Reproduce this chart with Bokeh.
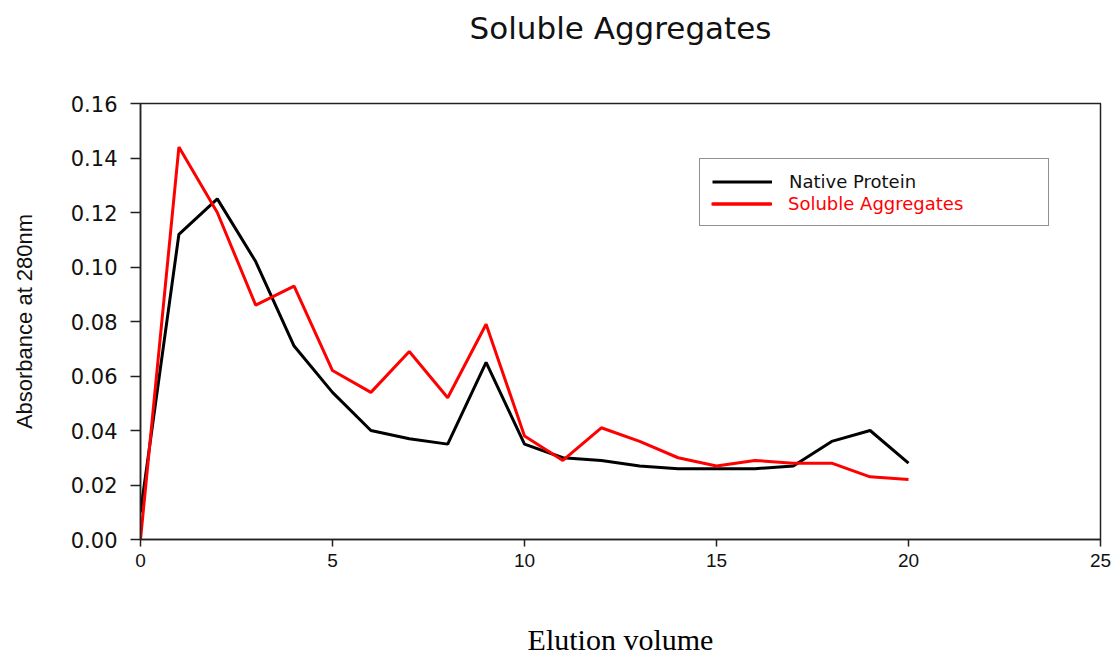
from bokeh.plotting import figure
from bokeh.models import Range1d, FixedTicker, NumeralTickFormatter, Legend, LegendItem, Title
from bokeh.embed import file_html
from bokeh.resources import INLINE

# ---- data ----
elution_volume = [0, 1, 2, 3, 4, 5, 6, 7, 8, 9, 10, 11, 12, 13, 14, 15, 16, 17, 18, 19, 20]
native_protein = [0.010, 0.112, 0.125, 0.102, 0.071, 0.054, 0.040, 0.037, 0.035, 0.065, 0.035,
                  0.030, 0.029, 0.027, 0.026, 0.026, 0.026, 0.027, 0.036, 0.040, 0.028]
soluble_aggregates = [0.000, 0.144, 0.120, 0.086, 0.093, 0.062, 0.054, 0.069, 0.052, 0.079, 0.038,
                      0.029, 0.041, 0.036, 0.030, 0.027, 0.029, 0.028, 0.028, 0.023, 0.022]
x_ticks = [0, 5, 10, 15, 20, 25]
y_ticks = [0.00, 0.02, 0.04, 0.06, 0.08, 0.10, 0.12, 0.14, 0.16]
title_text = "Soluble Aggregates"
x_label = "Elution volume"
y_label = "Absorbance at 280nm"
series_names = ["Native Protein", "Soluble Aggregates"]

p = figure(width=1115, height=658, output_backend="svg", toolbar_location=None,
           x_range=Range1d(0, 25), y_range=Range1d(0, 0.16),
           min_border_left=140, min_border_right=15, min_border_top=103, min_border_bottom=118)

p.title.text = title_text
p.title.align = "center"
p.title.text_font = "DejaVu Sans"
p.title.text_font_size = "31px"
p.title.text_font_style = "normal"
p.title.text_color = "#111111"
p.title.standoff = 0

# blank spacer between title and frame
spacer = Title(text=" ", text_font_size="10px", standoff=45)
p.add_layout(spacer, "above")

p.grid.visible = False
p.outline_line_color = "#222222"
p.outline_line_width = 1.5
p.background_fill_color = "white"
p.border_fill_color = "white"

# axes
for ax in (p.xaxis[0], p.yaxis[0]):
    ax.axis_line_color = "#222222"
    ax.axis_line_width = 1.5
    ax.major_tick_line_color = "#222222"
    ax.major_tick_line_width = 1.5
    ax.major_tick_in = 0
    ax.minor_tick_line_color = None
    ax.major_label_text_color = "#111111"

p.xaxis.ticker = FixedTicker(ticks=x_ticks)
p.xaxis.major_tick_out = 7
p.xaxis.major_label_standoff = 7
p.xaxis.major_label_text_font = "Liberation Sans"
p.xaxis.major_label_text_font_size = "19px"
p.xaxis.axis_label = x_label
p.xaxis.axis_label_text_font = "Liberation Serif"
p.xaxis.axis_label_text_font_size = "30px"
p.xaxis.axis_label_text_font_style = "normal"
p.xaxis.axis_label_text_color = "#000000"
p.xaxis.axis_label_standoff = 53

p.yaxis.ticker = FixedTicker(ticks=y_ticks)
p.yaxis.formatter = NumeralTickFormatter(format="0.00")
p.yaxis.major_tick_out = 10
p.yaxis.major_label_standoff = 13
p.yaxis.major_label_text_font = "DejaVu Sans"
p.yaxis.major_label_text_font_size = "21px"
p.yaxis.axis_label = y_label
p.yaxis.axis_label_text_font = "Liberation Sans"
p.yaxis.axis_label_text_font_size = "22px"
p.yaxis.axis_label_text_font_style = "normal"
p.yaxis.axis_label_text_color = "#111111"
p.yaxis.axis_label_standoff = 31

r_native = p.line(elution_volume, native_protein, line_color="#000000", line_width=3)
r_sol = p.line(elution_volume, soluble_aggregates, line_color="#ff0000", line_width=3)

common = dict(padding=12, spacing=2, glyph_width=60, glyph_height=19, label_height=19,
              label_standoff=17, label_text_font="DejaVu Sans", label_text_font_size="18px",
              margin=0, location=(559, 313), label_width=247)

legend1 = Legend(items=[LegendItem(label=series_names[0], renderers=[r_native]),
                        LegendItem(label="", renderers=[r_sol])],
                 border_line_color="#222222", border_line_width=1.5,
                 background_fill_color="white", background_fill_alpha=1.0,
                 label_text_color="#111111", **common)
legend2 = Legend(items=[LegendItem(label=series_names[1], renderers=[r_sol])],
                 border_line_alpha=0, background_fill_alpha=0,
                 label_text_color="#ff0000", **common)
p.add_layout(legend1, "center")
p.add_layout(legend2, "center")

open("out.html", "w").write(file_html(p, INLINE))
